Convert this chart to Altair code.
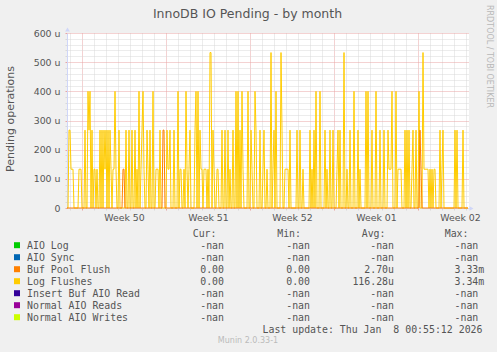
import altair as alt
import pandas as pd

# Log Flushes (micro-operations, "u"), one value per 2-hour step (402 steps)
log_flushes = [
    0, 0, 267, 267, 133, 133, 133, 0, 0, 0, 0, 0, 133, 133, 133, 0, 0, 0, 267, 0,
    0, 400, 267, 400, 0, 267, 0, 133, 133, 0, 133, 0, 0, 267, 0, 267, 0, 267, 133, 267,
    0, 267, 0, 267, 133, 0, 133, 133, 400, 133, 0, 0, 267, 0, 0, 0, 0, 0, 0, 267,
    0, 0, 267, 0, 0, 267, 0, 0, 267, 0, 133, 0, 400, 0, 133, 267, 400, 133, 0, 0,
    267, 133, 0, 267, 0, 0, 400, 0, 0, 133, 133, 133, 0, 267, 0, 0, 0, 0, 0, 0,
    267, 133, 133, 267, 0, 0, 0, 267, 0, 0, 0, 400, 0, 133, 133, 0, 0, 133, 0, 400,
    133, 0, 133, 267, 0, 0, 0, 0, 267, 400, 0, 400, 0, 267, 133, 133, 0, 133, 133, 133,
    0, 133, 0, 533, 533, 0, 267, 133, 0, 0, 133, 133, 0, 0, 0, 267, 0, 0, 267, 0,
    0, 267, 0, 133, 0, 0, 267, 0, 0, 400, 0, 400, 0, 267, 0, 400, 133, 0, 0, 0,
    0, 400, 0, 0, 267, 133, 0, 0, 400, 267, 0, 0, 0, 267, 0, 0, 133, 267, 0, 0,
    133, 0, 0, 0, 533, 0, 133, 267, 0, 400, 0, 0, 0, 0, 533, 267, 0, 0, 133, 133,
    133, 133, 0, 267, 0, 0, 0, 0, 0, 0, 267, 0, 0, 267, 0, 0, 133, 0, 0, 0,
    0, 0, 0, 267, 0, 133, 0, 267, 0, 400, 0, 0, 0, 400, 0, 0, 0, 0, 267, 0,
    133, 0, 0, 267, 0, 0, 267, 0, 0, 0, 133, 267, 0, 267, 0, 0, 0, 533, 0, 0,
    133, 0, 0, 267, 0, 0, 0, 400, 0, 0, 0, 267, 0, 133, 0, 0, 0, 0, 0, 400,
    0, 400, 0, 0, 0, 267, 0, 0, 0, 400, 0, 0, 0, 267, 0, 0, 0, 267, 0, 0,
    0, 267, 133, 133, 133, 400, 0, 0, 0, 400, 0, 133, 133, 133, 133, 0, 0, 0, 267, 0,
    267, 0, 267, 0, 0, 133, 267, 0, 0, 267, 0, 0, 400, 0, 0, 0, 533, 133, 133, 133,
    133, 133, 0, 133, 0, 133, 0, 133, 133, 0, 0, 0, 0, 267, 0, 133, 267, 0, 0, 0,
    0, 0, 0, 0, 0, 0, 0, 0, 267, 0, 267, 0, 0, 0, 0, 0, 267, 0, 0, 0,
    0, 0,
]

# Buf Pool Flush (micro-operations), same steps
buf_pool_flush = [
    0, 0, 0, 0, 0, 0, 0, 0, 0, 0, 0, 0, 0, 0, 0, 0, 0, 0, 0, 0,
    0, 0, 0, 0, 0, 0, 0, 0, 0, 0, 0, 0, 0, 0, 0, 0, 0, 0, 0, 0,
    0, 0, 0, 0, 0, 0, 0, 0, 0, 0, 0, 0, 0, 0, 0, 0, 133, 133, 0, 0,
    0, 0, 0, 0, 0, 0, 0, 0, 0, 0, 0, 0, 0, 0, 0, 0, 0, 0, 0, 0,
    0, 0, 0, 0, 0, 0, 0, 0, 0, 0, 0, 0, 0, 0, 0, 0, 267, 267, 0, 0,
    0, 0, 0, 0, 0, 0, 0, 0, 0, 0, 0, 0, 0, 0, 0, 0, 0, 0, 0, 0,
    0, 0, 0, 0, 0, 0, 0, 0, 0, 0, 0, 0, 0, 0, 0, 0, 0, 0, 0, 0,
    0, 0, 0, 0, 0, 0, 0, 0, 0, 0, 0, 0, 0, 0, 0, 0, 0, 0, 0, 0,
    0, 0, 0, 0, 0, 0, 0, 0, 0, 0, 0, 0, 0, 0, 0, 0, 0, 0, 0, 0,
    0, 0, 0, 0, 0, 0, 0, 0, 0, 0, 0, 0, 0, 0, 0, 0, 0, 0, 0, 0,
    0, 0, 0, 0, 0, 0, 0, 0, 0, 0, 0, 0, 0, 0, 0, 0, 0, 0, 0, 0,
    0, 0, 0, 0, 0, 0, 0, 0, 0, 0, 0, 0, 0, 0, 0, 0, 0, 0, 0, 0,
    0, 0, 0, 0, 0, 0, 0, 0, 0, 0, 0, 0, 0, 0, 0, 0, 0, 0, 0, 0,
    0, 0, 0, 0, 0, 0, 0, 0, 0, 0, 0, 0, 0, 0, 0, 0, 0, 0, 0, 0,
    0, 0, 0, 0, 0, 0, 0, 0, 0, 0, 0, 0, 0, 0, 0, 0, 0, 0, 0, 0,
    0, 0, 0, 0, 0, 0, 0, 0, 0, 0, 0, 0, 0, 0, 0, 0, 0, 0, 0, 0,
    0, 0, 0, 0, 0, 0, 0, 0, 0, 0, 0, 0, 0, 0, 0, 0, 0, 0, 0, 0,
    0, 0, 0, 0, 0, 0, 0, 0, 0, 0, 0, 0, 0, 267, 133, 0, 0, 0, 0, 0,
    0, 0, 0, 0, 0, 0, 0, 0, 0, 0, 0, 0, 0, 0, 0, 0, 0, 0, 0, 0,
    0, 0, 0, 0, 0, 0, 0, 0, 0, 0, 0, 0, 0, 0, 0, 0, 0, 0, 0, 0,
    0, 0,
]

week_labels = ["Week 50", "Week 51", "Week 52", "Week 01", "Week 02"]
week_start_step = [15, 99, 183, 267, 351]

legend_names = ["AIO Log", "AIO Sync", "Buf Pool Flush", "Log Flushes",
                "Insert Buf AIO Read", "Normal AIO Reads", "Normal AIO Writes"]
legend_colors = ["#00CC00", "#0066B3", "#FF8000", "#FFCC00",
                 "#330099", "#990099", "#CCFF00"]
cur_vals = ["-nan", "-nan", "0.00", "0.00", "-nan", "-nan", "-nan"]
min_vals = ["-nan", "-nan", "0.00", "0.00", "-nan", "-nan", "-nan"]
avg_vals = ["-nan", "-nan", "2.70u", "116.28u", "-nan", "-nan", "-nan"]
max_vals = ["-nan", "-nan", "3.33m", "3.34m", "-nan", "-nan", "-nan"]

title_text = "InnoDB IO Pending - by month"
ylabel_text = "Pending operations"
last_update = "Last update: Thu Jan\u00a0\u00a08 00:55:12 2026"
version_text = "Munin 2.0.33-1"
watermark = "RRDTOOL / TOBI OETIKER"

# ---- layout constants (pixels) ----
OX, OY = 67, 33          # plot origin on the canvas
W, H = 402, 175
FONT = "DejaVu Sans"
MONO = "DejaVu Sans Mono"
FC = "#555555"
AXC = "#CFD6F8"
MAJ = "#E8A4A4"
MIN = "#D9D9D9"

n = len(log_flushes)
df = pd.DataFrame({"step": list(range(n)), "log": log_flushes, "buf": buf_pool_flush})

label_expr = "".join(
    f"datum.value == {s} ? '{w}' : " for s, w in zip(week_start_step, week_labels)
) + "''"
x_major_test = f"(datum.value - {week_start_step[0]}) % 84 == 0"

xaxis = alt.Axis(
    title=None,
    values=list(range(3, n, 12)),
    grid=True, gridDash=[1, 1], gridWidth=1,
    gridColor={"condition": {"test": x_major_test, "value": MAJ}, "value": MIN},
    tickColor={"condition": {"test": x_major_test, "value": MAJ}, "value": MIN},
    tickSize=2,
    domainColor=AXC,
    labelExpr=label_expr, labelOffset=42, labelPadding=3,
    labelFont=FONT, labelFontSize=9.4, labelColor=FC,
    labelOverlap=False, labelFlush=False,
)
yaxis = alt.Axis(
    title=None,
    values=list(range(0, 601, 20)),
    grid=True, gridDash=[1, 1], gridWidth=1,
    gridColor={"condition": {"test": "datum.value % 100 == 0", "value": MAJ}, "value": MIN},
    tickColor={"condition": {"test": "datum.value % 100 == 0", "value": MAJ}, "value": MIN},
    tickSize=2,
    domainColor=AXC,
    labelExpr="datum.value % 100 == 0 ? (datum.value == 0 ? '0' : datum.value + ' u') : ''",
    labelPadding=5, labelFont=FONT, labelFontSize=9.4, labelColor=FC,
    labelOverlap=False, labelFlush=False,
)

xs = alt.Scale(domain=[0, n], nice=False, zero=False)
ys = alt.Scale(domain=[0, 600], nice=False)

base = alt.Chart(df)
log_line = base.mark_line(color="#FFCC00", strokeWidth=1).encode(
    x=alt.X("step:Q", scale=xs, axis=xaxis),
    y=alt.Y("log:Q", scale=ys, axis=yaxis),
)
buf_line = base.mark_line(color="#FF8000", strokeWidth=1).encode(
    x=alt.X("step:Q", scale=xs, axis=xaxis),
    y=alt.Y("buf:Q", scale=ys, axis=yaxis),
)

one = pd.DataFrame({"k": [0]})


def text_at(txt, cx, cy, size, font=FONT, color=FC, align="left", baseline="middle",
            angle=0, line_height=None):
    kw = dict(align=align, baseline=baseline, font=font, fontSize=size, color=color)
    if angle:
        kw["angle"] = angle
    if line_height:
        kw["lineBreak"] = "\n"
        kw["lineHeight"] = line_height
    return alt.Chart(one).mark_text(**kw).encode(
        x=alt.value(cx - OX), y=alt.value(cy - OY), text=alt.value(txt)
    )


layers = [log_line, buf_line]

# axis arrows
layers.append(alt.Chart(one).mark_point(shape="triangle-up", filled=True, color=AXC,
                                        size=22, opacity=1).encode(
    x=alt.value(0.5), y=alt.value(-3.5)))
layers.append(alt.Chart(one).mark_point(shape="triangle-right", filled=True, color=AXC,
                                        size=22, opacity=1).encode(
    x=alt.value(W + 2.5), y=alt.value(H + 0.5)))

layers.append(text_at(title_text, 247.5, 14, 12.5, align="center"))
layers.append(text_at(ylabel_text, 10.5, 119, 11, align="center", angle=270))
layers.append(text_at(watermark, 488.5, 56.5, 8, color="#B8B8B8", align="center", angle=90))
layers.append(text_at(version_text, 248, 341, 8, color="#BBBBBB", align="center"))

MS = 9.9
row0 = 245.7
top_y = row0 - 0.49 * MS
layers.append(text_at("\n".join(legend_names), 27, top_y, MS, font=MONO,
                      baseline="top", line_height=12))
for vals, right in [(cur_vals, 224), (min_vals, 310), (avg_vals, 394)]:
    layers.append(text_at("\n".join(vals), right, top_y, MS, font=MONO, align="right",
                          baseline="top", line_height=12))
layers.append(text_at("\n".join(max_vals), 454.5, top_y, MS, font=MONO,
                      align="left", baseline="top", line_height=12))
for h, right in [("Cur:", 216.5), ("Min:", 301), ("Avg:", 385.5), ("Max:", 468.5)]:
    layers.append(text_at(h, right, 233.7, MS, font=MONO, align="right"))
layers.append(text_at(last_update, 482.5, 329.7, MS, font=MONO, align="right"))

for i, c in enumerate(legend_colors):
    layers.append(alt.Chart(one).mark_square(color=c, size=36, opacity=1).encode(
        x=alt.value(17 - OX), y=alt.value(row0 - 0.5 + 12 * i - OY)))

chart = alt.layer(*layers).properties(
    width=W, height=H,
    padding={"left": OX, "top": OY, "right": 497 - OX - W, "bottom": 352 - OY - H},
    autosize=alt.AutoSizeParams(type="none"),
    background="#F0F0F0",
).configure_view(fill="white", stroke=None)

chart.save("out.html", embed_options={"renderer": "svg", "actions": False})
